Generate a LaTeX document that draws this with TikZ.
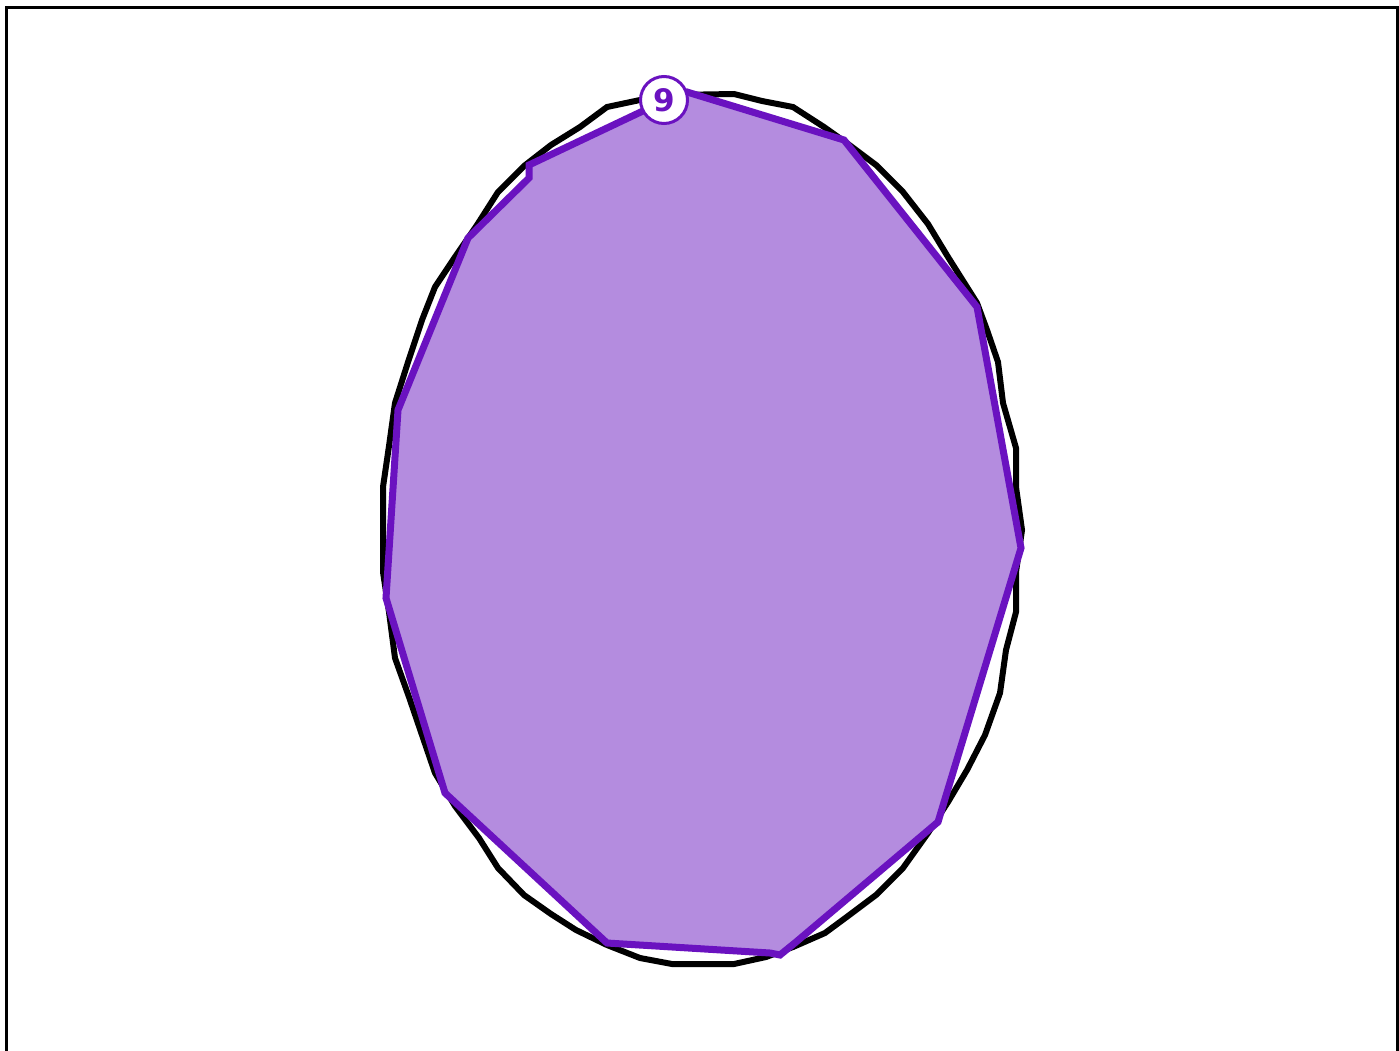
\documentclass[tikz,border=0pt]{standalone}
\usepackage{fontspec}
\setsansfont{DejaVu Sans}
\definecolor{pfill}{HTML}{B48CDF}
\definecolor{pline}{HTML}{6A12C0}
\begin{document}
\begin{tikzpicture}[x=1pt,y=-1pt,
  outline/.style={line width=6pt,line join=miter,draw=black},
  region/.style={line width=7pt,line join=miter,draw=pline,fill=pfill},
  badge/.style={circle,draw=pline,line width=3pt,fill=white,minimum size=47pt,inner sep=0pt,text=pline,font=\sffamily\bfseries\fontsize{31}{31}\selectfont}]
\useasboundingbox (0,0) rectangle (1399,1050);
\fill[white] (0,0) rectangle (1399,1050);
\draw[line width=3pt] (6,1053) -- (6,7) -- (1397,7) -- (1397,1053);
\draw[outline] (607,107) -- (640,100) -- (672,95) -- (734,94) -- (762,101) -- (793,107) -- (824,127) -- (848,144) -- (876,165) -- (903,192) -- (928,224) -- (948,257) -- (977,303) -- (987,330) -- (998,362) -- (1003,403) -- (1016,448) -- (1016,487) -- (1022,530) -- (1016,572) -- (1016,612) -- (1006,650) -- (1000,693) -- (985,735) -- (967,770) -- (948,802) -- (928,833) -- (903,868) -- (876,895) -- (848,916) -- (825,933) -- (793,947) -- (766,957) -- (734,964) -- (702,964) -- (672,964) -- (640,958) -- (607,945) -- (576,930) -- (551,914) -- (524,895) -- (498,868) -- (479,838) -- (455,806) -- (435,773) -- (422,735) -- (409,697) -- (395,658) -- (389,612) -- (383,572) -- (383,530) -- (383,487) -- (389,446) -- (395,403) -- (409,359) -- (422,320) -- (435,287) -- (455,257) -- (477,225) -- (498,192) -- (524,166) -- (551,145) -- (580,127) -- cycle;
\draw[region] (664,100) -- (687,92) -- (844,140) -- (977,307) -- (1021,548) -- (938,822) -- (796,942) -- (780,955) -- (770,953) -- (607,943) -- (445,793) -- (386,598) -- (398,410) -- (468,238) -- (529,178) -- (529,165) -- (645,110) -- cycle;
\node[badge] (n9) at (664,100) {9};
\end{tikzpicture}
\end{document}
